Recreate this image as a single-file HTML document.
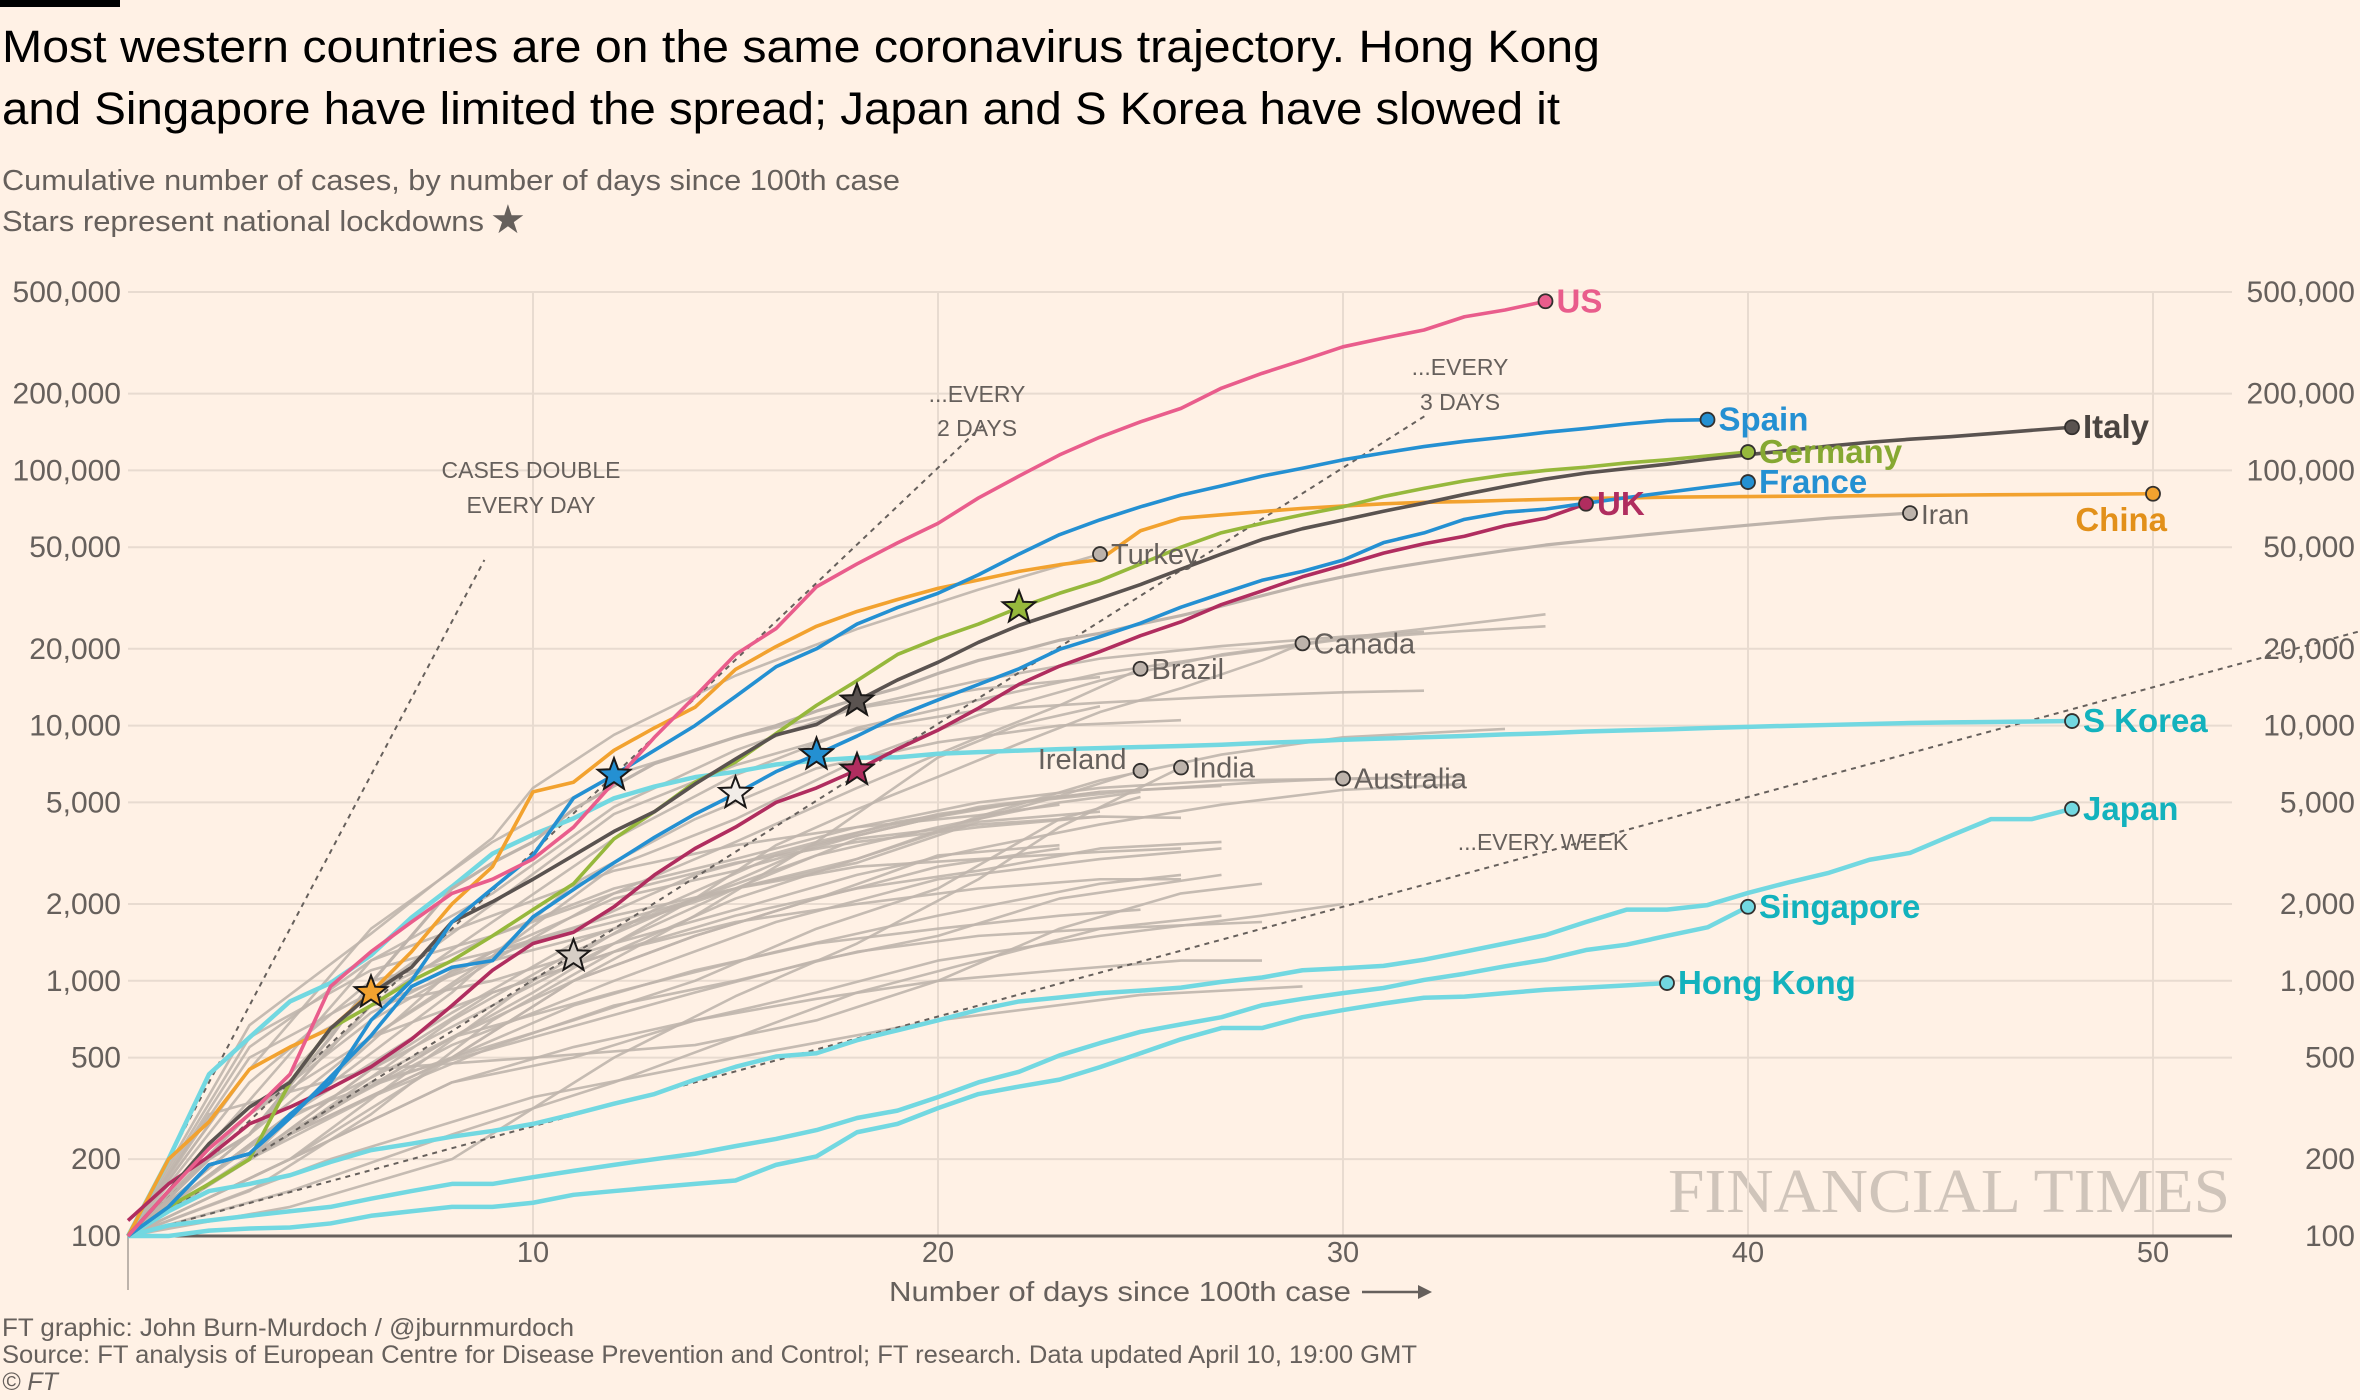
<!DOCTYPE html>
<html><head><meta charset="utf-8"><style>
html,body{margin:0;padding:0;background:#FFF1E5;}
svg{display:block;font-family:"Liberation Sans",sans-serif;}
</style></head><body>
<svg id="chart" width="2360" height="1400" viewBox="0 0 2360 1400" xmlns="http://www.w3.org/2000/svg">
<rect x="0" y="0" width="2360" height="1400" fill="#FFF1E5"/>
<rect x="0" y="0" width="120" height="7" fill="#000"/>
<text x="2" y="62" font-size="45" fill="#000" textLength="1598" lengthAdjust="spacingAndGlyphs">Most western countries are on the same coronavirus trajectory. Hong Kong</text>
<text x="2" y="124" font-size="45" fill="#000" textLength="1558" lengthAdjust="spacingAndGlyphs">and Singapore have limited the spread; Japan and S Korea have slowed it</text>
<text x="2" y="190" font-size="29" fill="#66605C" textLength="898" lengthAdjust="spacingAndGlyphs">Cumulative number of cases, by number of days since 100th case</text>
<text x="2" y="231" font-size="29" fill="#66605C" textLength="482" lengthAdjust="spacingAndGlyphs">Stars represent national lockdowns</text>
<text x="490" y="233" font-size="40" fill="#66605C">★</text>
<text x="1668" y="1212" font-size="62" fill="#CFC4BA" font-family="Liberation Serif, serif" textLength="562" lengthAdjust="spacingAndGlyphs">FINANCIAL TIMES</text>
<g id="grid"></g>
<g id="yleft"></g>
<g id="yright"></g>
<g id="xaxis"></g>
<g id="greys"></g>
<g id="doubling"></g>
<g id="mains"></g>
<g id="stars"></g>
<g id="dots"></g>
<text x="889" y="1301" font-size="28" fill="#66605C" textLength="462" lengthAdjust="spacingAndGlyphs">Number of days since 100th case</text>
<g><line x1="1362" y1="1292" x2="1424" y2="1292" stroke="#66605C" stroke-width="2.5"/><polygon points="1418,1285 1432,1292 1418,1299" fill="#66605C"/></g>
<text x="2" y="1336" font-size="25" fill="#66605C" textLength="572" lengthAdjust="spacingAndGlyphs">FT graphic: John Burn-Murdoch / @jburnmurdoch</text>
<text x="2" y="1363" font-size="25" fill="#66605C" textLength="1415" lengthAdjust="spacingAndGlyphs">Source: FT analysis of European Centre for Disease Prevention and Control; FT research. Data updated April 10, 19:00 GMT</text>
<text x="2" y="1390" font-size="25" fill="#66605C" font-style="italic">© FT</text>
</svg>
<script>
const yTicks = [100,200,500,1000,2000,5000,10000,20000,50000,100000,200000,500000];
const yTickLabels = ["100","200","500","1,000","2,000","5,000","10,000","20,000","50,000","100,000","200,000","500,000"];
const xTicks = [10,20,30,40,50];

const usCases = [100,150,220,300,430,950,1300,1700,2200,2500,3000,4000,6000,9000,13000,19000,24000,35000,43000,52000,62000,78000,95000,115000,135000,155000,175000,210000,240000,270000,305000,330000,355000,400000,425000,460000];
const spainCases = [100,130,190,210,300,400,700,1000,1700,2300,3100,5200,6400,8000,10000,13000,17000,20000,25000,29000,33000,39000,47000,56000,64000,72000,80000,87000,95000,102000,110000,117000,124000,130000,135000,141000,146000,152000,157000,158000];
const italyCases = [100,150,230,320,400,650,890,1130,1700,2040,2500,3100,3850,4600,5900,7400,9200,10100,12500,15100,17700,21200,24700,27900,31500,35700,41000,47000,53600,59100,63900,69200,74400,80500,86500,92500,97700,101700,105800,110600,115200,119800,124600,128900,132500,135600,139400,143600,147600];
const germanyCases = [100,130,160,200,400,650,800,1000,1200,1500,1900,2400,3600,4600,6000,7200,9300,12000,15000,19000,22000,25000,29000,33000,37000,43000,50000,57000,62000,67000,72000,79000,85000,91000,96000,100000,103000,107000,110000,114000,118000];
const franceCases = [100,130,190,210,290,420,610,950,1130,1200,1780,2280,2900,3650,4500,5400,6600,7700,9100,10900,12600,14500,16700,19900,22300,25200,29100,32900,37100,40200,44500,52100,56900,64300,68600,70500,74400,78200,82000,86000,90000];
const ukCases = [115,160,205,275,320,380,460,590,800,1100,1400,1550,1950,2600,3300,4000,5000,5700,6700,8100,9600,11700,14500,17100,19500,22500,25500,29800,33700,38300,42500,47400,51600,55200,60700,65000,74000];
const chinaCases = [100,200,280,450,550,650,900,1300,2000,2800,5500,6000,8000,9800,11800,16600,20400,24500,28000,31200,34500,37200,40200,42700,44700,58000,65000,67000,69000,71000,72500,74000,75000,75500,76300,77000,77700,78000,78500,78800,79000,79200,79400,79600,79800,80000,80200,80400,80600,80800,81000];
const skoreaCases = [100,200,430,600,830,980,1260,1770,2340,3150,3740,4330,5190,5770,6280,6590,7040,7310,7480,7510,7760,7870,7980,8090,8160,8240,8320,8410,8560,8650,8800,8900,9000,9100,9240,9330,9480,9580,9660,9790,9890,9980,10060,10150,10240,10300,10330,10380,10420];
const japanCases = [100,125,150,160,173,195,217,230,245,258,275,300,330,360,410,460,505,520,585,640,700,770,830,860,895,915,940,990,1030,1100,1120,1144,1210,1300,1400,1510,1700,1900,1900,1980,2210,2430,2650,2980,3170,3700,4300,4300,4720];
const singaporeCases = [100,110,115,120,125,130,140,150,160,160,170,180,190,200,210,225,240,260,290,310,350,400,440,510,570,631,675,720,802,850,895,937,1008,1066,1140,1210,1320,1385,1500,1620,1950];
const hongkongCases = [100,100,105,107,108,112,120,125,130,130,135,145,150,155,160,165,190,205,255,275,317,360,385,410,459,520,590,653,653,720,768,815,858,867,895,922,940,960,980];
const iranCases = [100,140,200,250,390,600,980,1500,2300,2900,3500,4700,5800,7100,8000,9000,10000,11400,12700,14000,16000,18000,19600,21600,23000,25000,27000,29400,32300,35400,38300,41000,43500,46000,48500,51000,53000,55000,57000,59000,61000,63000,65000,66500,68000];

const mainNames = ["Hong Kong","Singapore","Japan","S Korea","Iran","China","UK","France","Germany","Italy","Spain","US"];
const mainColors = ["#72D8E1","#72D8E1","#72D8E1","#72D8E1","#BDB3AB","#F2A22F","#B02D5F","#2490D2","#96B83C","#5A5350","#2490D2","#E95D8C"];
const mainLabelColors = ["#13B2BD","#13B2BD","#13B2BD","#13B2BD","#66605C","#E2901A","#B02D5F","#2490D2","#86A832","#4A4440","#2490D2","#E95D8C"];
const mainData = [hongkongCases,singaporeCases,japanCases,skoreaCases,iranCases,chinaCases,ukCases,franceCases,germanyCases,italyCases,spainCases,usCases];

const greyNames = ["Turkey","Canada","Brazil","Ireland","India","Australia","Belgium","Netherlands","Switzerland","Austria","Portugal","Israel","Sweden","Norway","Denmark","Chile","Ecuador","Russia","Poland","Romania","Malaysia","Philippines","Pakistan","Czechia","Saudi Arabia","Mexico","Indonesia","Peru","Qatar","Luxembourg","Finland","Thailand","Greece","Egypt","Argentina","Iceland","Slovenia","Bahrain","Panama","Dominican Rep"];
const greySeries = [
[[0,100],[3,670],[6,1530],[9,3630],[10,5700],[12,9200],[15,15700],[18,23900],[21,34100],[24,47000]],
[[0,100],[4,250],[8,600],[10,900],[12,1400],[14,2100],[16,3400],[18,4700],[20,6300],[22,8500],[24,11300],[26,14000],[28,18000],[29,21000]],
[[0,100],[3,250],[6,600],[9,1200],[12,2200],[15,3500],[18,5700],[21,9000],[23,12000],[25,16700]],
[[0,100],[3,150],[6,300],[9,700],[12,1300],[15,2100],[18,3000],[21,4300],[23,5300],[25,6650]],
[[0,100],[4,130],[8,200],[12,500],[15,870],[18,1400],[21,2500],[23,4000],[26,6850]],
[[0,100],[4,200],[7,450],[10,1000],[13,1900],[16,3100],[19,4200],[22,5000],[25,5600],[28,6000],[30,6200],[33,6300]],
[[0,100],[3,300],[6,600],[9,1250],[12,2800],[15,4300],[18,7300],[21,11000],[24,15000],[27,19000],[30,22000],[33,25000],[35,27300]],
[[0,100],[3,250],[6,800],[9,1700],[12,3600],[15,6400],[18,9800],[21,12600],[24,16000],[27,18800],[30,21800],[33,23500],[35,24500]],
[[0,100],[3,340],[6,1200],[9,2200],[12,4800],[15,8000],[18,11800],[21,15000],[24,18300],[27,20500],[30,22300],[32,23300]],
[[0,100],[3,300],[6,900],[9,2000],[12,4500],[15,7000],[18,9600],[21,11500],[24,12300],[27,13000],[30,13500],[32,13700]],
[[0,100],[3,450],[6,1600],[9,3500],[12,6400],[15,9000],[18,11700],[21,13900],[24,15500]],
[[0,100],[4,300],[8,900],[11,2400],[14,4300],[17,6800],[20,8600],[23,10000],[26,10500]],
[[0,100],[3,400],[6,1000],[9,1300],[12,1700],[15,2300],[18,3000],[21,4400],[24,6100],[27,7700],[30,9000],[34,9700]],
[[0,100],[3,600],[6,1100],[9,1500],[12,2300],[15,3000],[18,4000],[21,5000],[24,5700],[27,6100],[31,6200]],
[[0,100],[3,450],[6,800],[9,1000],[12,1400],[15,1900],[18,2600],[21,3300],[24,4100],[27,4900],[30,5600],[33,5900]],
[[0,100],[3,300],[6,750],[9,1300],[12,2100],[15,2700],[18,3700],[21,4800],[24,5500]],
[[0,100],[3,550],[6,1200],[9,1800],[12,2700],[15,3400],[18,4000],[21,4450],[23,4900]],
[[0,100],[4,250],[8,500],[11,1000],[14,1800],[17,3500],[20,7500],[22,10100],[24,11900]],
[[0,100],[4,300],[8,750],[11,1400],[14,2100],[17,3400],[20,4400],[23,5300]],
[[0,100],[4,250],[8,700],[11,1300],[14,2100],[17,3100],[20,4000],[23,5000],[25,5500]],
[[0,100],[3,500],[6,900],[9,1500],[12,2200],[15,2900],[18,3500],[21,4000],[24,4400],[26,4350]],
[[0,100],[3,200],[6,450],[9,800],[12,1400],[15,2300],[18,3600],[21,4100],[24,4400]],
[[0,100],[3,250],[6,800],[9,1200],[12,1600],[15,2300],[18,2900],[21,4200],[24,4600]],
[[0,100],[4,300],[8,1100],[11,1600],[14,2600],[17,3500],[20,4500],[24,5500],[27,5800]],
[[0,100],[4,250],[8,600],[11,1000],[14,1500],[17,2100],[20,2800],[23,3300]],
[[0,100],[4,300],[8,500],[11,1000],[14,1500],[17,2100],[20,3100],[23,3400]],
[[0,100],[3,200],[6,450],[9,900],[12,1300],[15,1800],[18,2300],[21,2700],[24,3300],[27,3500]],
[[0,100],[4,250],[8,500],[11,700],[14,1000],[17,1600],[20,2300],[23,4300],[25,5250]],
[[0,100],[2,300],[6,450],[10,500],[14,560],[17,700],[20,1000],[23,1600],[26,2200],[28,2400]],
[[0,100],[3,300],[6,700],[9,1300],[12,1800],[15,2300],[18,2800],[21,3000],[24,3200],[26,3300]],
[[0,100],[3,200],[6,400],[10,600],[14,900],[17,1200],[20,1500],[23,2100],[27,2600]],
[[0,100],[3,200],[6,600],[9,900],[12,1300],[15,1700],[18,2000],[21,2300],[24,2500],[26,2500]],
[[0,100],[4,200],[8,400],[11,500],[14,700],[17,900],[20,1200],[24,1500],[28,1800],[30,2000]],
[[0,100],[4,150],[8,250],[12,400],[15,600],[18,900],[21,1200],[24,1600],[27,1800]],
[[0,100],[4,200],[8,500],[11,800],[14,1100],[17,1400],[20,1600],[23,1800],[25,1900]],
[[0,100],[3,200],[6,350],[9,550],[12,800],[15,1000],[18,1300],[21,1500],[24,1600],[28,1700]],
[[0,100],[4,200],[8,400],[11,550],[14,700],[17,850],[20,1000],[23,1100],[26,1200],[28,1200]],
[[0,100],[5,200],[10,350],[15,500],[20,700],[25,880],[29,950]],
[[0,100],[4,260],[8,560],[12,1000],[16,1700],[20,2500],[24,3000],[27,3300]],
[[0,100],[4,290],[8,600],[12,900],[16,1300],[20,1800],[24,2400],[26,2600]]
];
const greyLabelled = ["Turkey","Canada","Brazil","Ireland","India","Australia"];

const doublingDays = [1,2,3,7];
const doublingEnds = [8.8,21.2,32.1,55.7];
const doublingNames = ["every-day","every-2-days","every-3-days","every-week"];

const starCountries = ["China","Spain","France","Italy","UK","Germany","grey-a","grey-b"];
const starDays = [6,12,17,18,18,22,11,15];
const starValues = [900,6400,7700,12500,6700,29000,1250,5430];
const starColors = ["#F2A22F","#2490D2","#2490D2","#5A5350","#B02D5F","#96B83C","#D6CEC6","#F2EDE8"];

const NS = "http://www.w3.org/2000/svg";
const X0 = 128, DX = 40.5, Y0 = 1236, DEC = 255.2, XR = 2232;
function xs(d){ return X0 + DX*d; }
function ys(v){ return Y0 - (Math.log10(v)-2)*DEC; }
function mk(tag, attrs, parent){ const e=document.createElementNS(NS,tag); for(const k in attrs) e.setAttribute(k,attrs[k]); parent.appendChild(e); return e; }

const grid=document.getElementById('grid'), yl=document.getElementById('yleft'), yr=document.getElementById('yright'), xa=document.getElementById('xaxis');
yTicks.forEach((t,i)=>{
  const y=ys(t);
  if(i>0){ const g=mk('line',{x1:X0,x2:XR,y1:y,y2:y,stroke:'#E8DBD0','stroke-width':2},grid);
    
     }
  const a=mk('text',{x:121,y:y+10,'text-anchor':'end','font-size':30,fill:'#66605C'},yl); a.textContent=yTickLabels[i];
  
  
  const b=mk('text',{x:2355,y:y+10,'text-anchor':'end','font-size':30,fill:'#66605C'},yr); b.textContent=yTickLabels[i];
  
  
});
xTicks.forEach(t=>{
  const x=xs(t);
  const g=mk('line',{x1:x,x2:x,y1:ys(500000),y2:Y0,stroke:'#E8DBD0','stroke-width':2},grid);
  
  
  const l=mk('text',{x:x,y:1262,'text-anchor':'middle','font-size':29,fill:'#66605C'},xa); l.textContent=String(t);
  
  
});
const base=mk('line',{x1:X0,x2:XR,y1:Y0,y2:Y0,stroke:'#66605C','stroke-width':3},xa);


const yline=mk('line',{x1:X0,x2:X0,y1:Y0,y2:1290,stroke:'#BDB3AB','stroke-width':2},xa);



const gg=document.getElementById('greys');
greySeries.forEach((s,i)=>{
  const p=mk('polyline',{points:s.map(q=>xs(q[0])+','+ys(q[1])).join(' '),fill:'none',stroke:'#BFB5AC','stroke-width':2.6,'stroke-linejoin':'round',opacity:0.9},gg);
  
  
});

const dg=document.getElementById('doubling');
doublingDays.forEach((r,i)=>{
  const d0=0.6, d1=doublingEnds[i];
  const l=mk('line',{x1:xs(d0),y1:ys(100*Math.pow(2,d0/r)),x2:xs(d1),y2:ys(100*Math.pow(2,d1/r)),stroke:'#66605C','stroke-width':2,'stroke-dasharray':'5,5'},dg);
  
  
});
const dl=[["CASES DOUBLE",531,478],["EVERY DAY",531,513],["...EVERY",977,402],["2 DAYS",977,436],["...EVERY",1460,375],["3 DAYS",1460,410],["...EVERY WEEK",1543,850]];
dl.forEach(a=>{ const t=mk('text',{x:a[1],y:a[2],'text-anchor':'middle','font-size':23,fill:'#66605C'},dg); t.textContent=a[0];
  
   });

const mg=document.getElementById('mains'), dtg=document.getElementById('dots');
mainData.forEach((s,i)=>{
  const cyan=i<4, grey=i==4;
  const p=mk('polyline',{points:s.map((v,d)=>xs(d)+','+ys(v)).join(' '),fill:'none',stroke:mainColors[i],'stroke-width':cyan?4.5:(grey?3.2:3.6),'stroke-linejoin':'round'},mg);
  
  
  const d=s.length-1, cx=xs(d), cy=ys(s[d]);
  const c=mk('circle',{cx:cx,cy:cy,r:7,fill:mainColors[i],stroke:'#33302E','stroke-width':1.8},dtg);
  
  
  let tx=cx+11, ty=cy+11, anchor='start';
  if(mainNames[i]=="China"){ tx=cx+14; ty=cy+37; anchor='end'; }
  const t=mk('text',{x:tx,y:ty,'text-anchor':anchor,'font-size':grey?28:33,'font-weight':grey?'normal':'bold',fill:mainLabelColors[i]},dtg);
  t.textContent=mainNames[i];
  
  
});
greyNames.forEach((n,i)=>{
  if(greyLabelled.indexOf(n)<0) return;
  const s=greySeries[i]; let last=s[s.length-1];
  if(n=="Australia") last=[30,6200];
  const cx=xs(last[0]), cy=ys(last[1]);
  const c=mk('circle',{cx:cx,cy:cy,r:7,fill:'#BDB3AB',stroke:'#33302E','stroke-width':1.8},dtg);
  
  
  const left=n=="Ireland";
  const t=mk('text',{x:left?cx-14:cx+11,y:left?cy-2:cy+10,'text-anchor':left?'end':'start','font-size':29,fill:'#66605C'},dtg);
  t.textContent=n;
  
  
});

const sg=document.getElementById('stars');
function starPts(cx,cy,r){ const pts=[]; for(let k=0;k<10;k++){ const a=-Math.PI/2+k*Math.PI/5, rr=k%2?r*0.42:r; pts.push((cx+rr*Math.cos(a)).toFixed(1)+','+(cy+rr*Math.sin(a)).toFixed(1)); } return pts.join(' '); }
starDays.forEach((d,i)=>{
  const s=mk('polygon',{points:starPts(xs(d),ys(starValues[i]),17),fill:starColors[i],stroke:'#1A1817','stroke-width':2},sg);
  
  
});
</script>
</body></html>
